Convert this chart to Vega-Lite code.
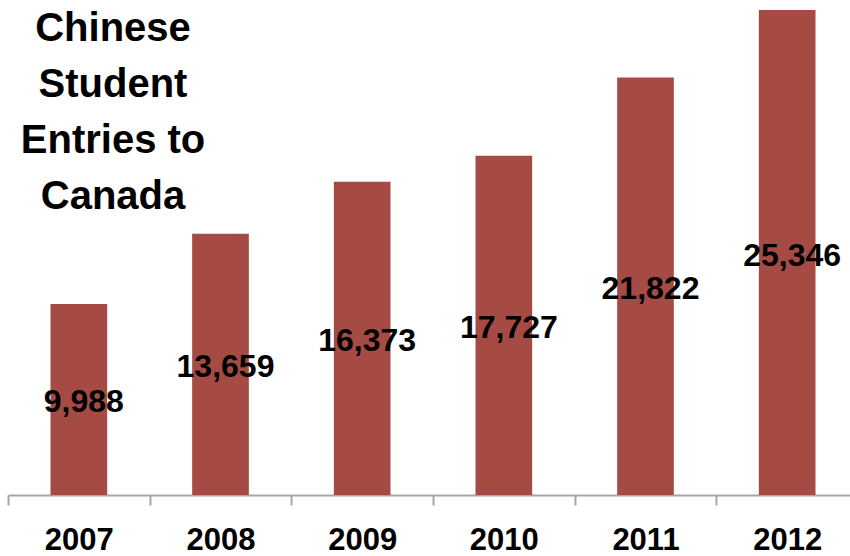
{
  "$schema": "https://vega.github.io/schema/vega-lite/v6.json",
  "width": 842,
  "height": 485,
  "autosize": {"type": "none"},
  "padding": {"left": 8, "top": 10, "right": 0, "bottom": 61},
  "background": "white",
  "config": {"view": {"stroke": null}},
  "title": {
    "text": ["Chinese", "Student", "Entries to", "Canada"],
    "font": "Liberation Sans",
    "fontWeight": "bold",
    "fontSize": 40,
    "lineHeight": 56,
    "color": "black",
    "anchor": "start",
    "frame": "group",
    "align": "center",
    "baseline": "alphabetic",
    "offset": 0,
    "dx": 105,
    "dy": 239
  },
  "data": {
    "values": [
      {"year": "2007", "entries": 9988},
      {"year": "2008", "entries": 13659},
      {"year": "2009", "entries": 16373},
      {"year": "2010", "entries": 17727},
      {"year": "2011", "entries": 21822},
      {"year": "2012", "entries": 25346}
    ]
  },
  "encoding": {
    "x": {
      "field": "year",
      "type": "nominal",
      "scale": {"paddingInner": 0, "paddingOuter": 0, "range": [0, 850]},
      "axis": {
        "title": null,
        "labelAngle": 0,
        "tickBand": "extent",
        "domainColor": "#a6a6a6",
        "domainWidth": 2,
        "tickColor": "#a6a6a6",
        "tickWidth": 2,
        "tickSize": 10,
        "labelFont": "Liberation Sans",
        "labelFontWeight": "bold",
        "labelFontSize": 31,
        "labelColor": "black",
        "labelBaseline": "alphabetic",
        "labelPadding": 44
      }
    }
  },
  "layer": [
    {
      "mark": {"type": "bar", "color": "#a54b44", "width": {"band": 0.4}},
      "encoding": {
        "y": {
          "field": "entries",
          "type": "quantitative",
          "scale": {"domain": [0, 25346], "nice": false},
          "axis": null
        }
      }
    },
    {
      "mark": {
        "type": "text",
        "font": "Liberation Sans",
        "fontWeight": "bold",
        "fontSize": 32,
        "color": "black",
        "baseline": "middle",
        "dx": 5,
        "dy": 3
      },
      "encoding": {
        "y": {
          "field": "entries",
          "type": "quantitative",
          "scale": {"domain": [0, 50692], "nice": false},
          "axis": null
        },
        "text": {"field": "entries", "type": "quantitative", "format": ","}
      }
    }
  ],
  "resolve": {"scale": {"y": "independent"}}
}
